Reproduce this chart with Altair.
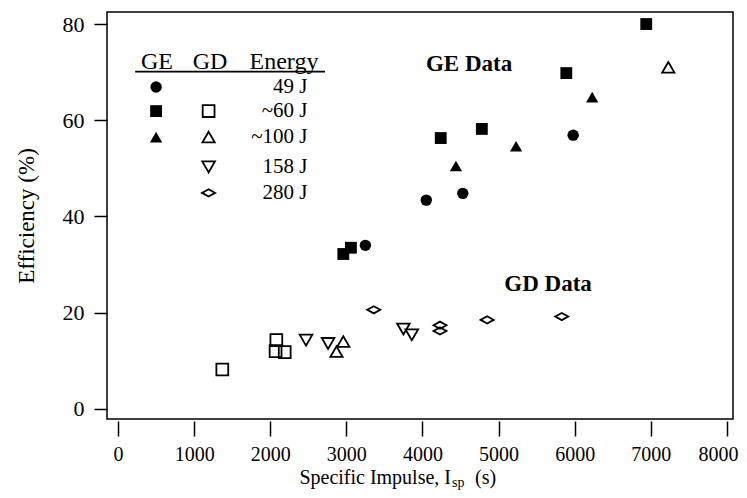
import altair as alt
import pandas as pd

# ---- data ----
ge_circle_x = [3250, 4050, 4530, 5980]
ge_circle_y = [34.0, 43.4, 44.8, 56.9]
ge_square_x = [2960, 3060, 4240, 4780, 5890, 6940]
ge_square_y = [32.2, 33.5, 56.3, 58.2, 69.8, 80.0]
ge_tri_x = [4440, 5230, 6230]
ge_tri_y = [50.5, 54.6, 64.8]

gd_square_x = [1370, 2070, 2190, 2080]
gd_square_y = [8.2, 12.0, 11.8, 14.3]
gd_tri_up_x = [2870, 2960, 7230]
gd_tri_up_y = [11.9, 14.0, 71.0]
gd_tri_down_x = [2470, 2760, 3750, 3860]
gd_tri_down_y = [14.3, 13.6, 16.6, 15.4]
gd_diamond_x = [3360, 4230, 4230, 4850, 5830]
gd_diamond_y = [20.6, 17.4, 16.2, 18.5, 19.2]

energy_labels = ["49 J", "~60 J", "~100 J", "158 J", "280 J"]
ge_markers = ["circle", "square", "tri_up", None, None]
gd_markers = [None, "square", "tri_up", "tri_down", "diamond"]
header_labels = ["GE", "GD", "Energy"]
x_ticks = [0, 1000, 2000, 3000, 4000, 5000, 6000, 7000, 8000]
y_ticks = [0, 20, 40, 60, 80]

FONT = "Liberation Serif"

# legend placement in data units
leg_ge_x, leg_gd_x, leg_lab_x = 500, 1190, 2490
leg_rows_y = [66.9, 61.9, 56.5, 50.3, 44.9]
leg_head_y = 70.6
leg_head_x = [512, 1209, 2180]

rows = []
def add(xs, ys, m, f):
    for a, b in zip(xs, ys):
        rows.append({"x": a, "y": b, "marker": m, "filled": f})

add(ge_circle_x, ge_circle_y, "circle", True)
add(ge_square_x, ge_square_y, "square", True)
add(ge_tri_x, ge_tri_y, "tri_up", True)
add(gd_square_x, gd_square_y, "square", False)
add(gd_tri_up_x, gd_tri_up_y, "tri_up", False)
add(gd_tri_down_x, gd_tri_down_y, "tri_down", False)
add(gd_diamond_x, gd_diamond_y, "diamond", False)
for m, ly in zip(ge_markers, leg_rows_y):
    if m:
        rows.append({"x": leg_ge_x, "y": ly, "marker": m, "filled": True})
for m, ly in zip(gd_markers, leg_rows_y):
    if m:
        rows.append({"x": leg_gd_x, "y": ly, "marker": m, "filled": False})
pts = pd.DataFrame(rows)

shape_scale = alt.Scale(
    domain=["circle", "square", "tri_up", "tri_down", "diamond"],
    range=["circle", "square", "triangle-up", "triangle-down",
           "M-1,0L0,-0.55L1,0L0,0.55Z"],
)
size_scale = alt.Scale(
    domain=["circle", "square", "tri_up", "tri_down", "diamond"],
    range=[130, 170, 170, 165, 160],
)

xs = alt.Scale(domain=[-145, 8080], nice=False, zero=False)
ys = alt.Scale(domain=[-2.1, 82.5], nice=False, zero=False)

base = alt.Chart(pts).encode(
    x=alt.X("x:Q", scale=xs, axis=alt.Axis(
        values=x_ticks, format="d", title=None, domain=False, grid=False,
        tickSize=15, tickWidth=1.5, tickColor="black", offset=2,
        labelFont=FONT, labelFontSize=20, labelColor="black", labelPadding=8,
        labelFlush=8, labelFlushOffset=11)),
    y=alt.Y("y:Q", scale=ys, axis=alt.Axis(
        values=y_ticks, title="Efficiency (%)", domain=False, grid=False,
        tickSize=13, tickWidth=1.5, tickColor="black",
        labelFont=FONT, labelFontSize=22, labelColor="black", labelPadding=10,
        titleFont=FONT, titleFontSize=23, titleFontWeight="normal",
        titleColor="black", titlePadding=24)),
    shape=alt.Shape("marker:N", scale=shape_scale, legend=None),
    size=alt.Size("marker:N", scale=size_scale, legend=None),
)

filled = base.transform_filter("datum.filled").mark_point(
    filled=True, color="black", opacity=1)
opened = base.transform_filter("!datum.filled").mark_point(
    filled=False, color="black", strokeWidth=1.8, opacity=1)

# legend texts
lab_df = pd.DataFrame({"x": [leg_lab_x] * 5, "y": leg_rows_y, "t": energy_labels})
labels = alt.Chart(lab_df).mark_text(
    align="right", baseline="middle", font=FONT, fontSize=21, color="black"
).encode(x=alt.X("x:Q", scale=xs), y=alt.Y("y:Q", scale=ys), text="t:N")

head_df = pd.DataFrame({"x": leg_head_x, "y": [leg_head_y] * 3, "t": header_labels})
heads = alt.Chart(head_df).mark_text(
    align="center", baseline="alphabetic", font=FONT, fontSize=24, color="black"
).encode(x=alt.X("x:Q", scale=xs), y=alt.Y("y:Q", scale=ys), text="t:N")

line_df = pd.DataFrame({"x": [225], "x2": [2720], "y": [70.1]})
uline = alt.Chart(line_df).mark_rule(color="black", strokeWidth=1.6).encode(
    x=alt.X("x:Q", scale=xs), x2="x2:Q", y=alt.Y("y:Q", scale=ys))

ann_df = pd.DataFrame({"x": [4612, 5650], "y": [70.2, 24.5], "t": ["GE Data", "GD Data"]})
ann = alt.Chart(ann_df).mark_text(
    align="center", baseline="alphabetic", font=FONT, fontSize=23,
    fontWeight="bold", color="black"
).encode(x=alt.X("x:Q", scale=xs), y=alt.Y("y:Q", scale=ys), text="t:N")

# x-axis title with subscript
t1 = alt.Chart(pd.DataFrame({"t": ["Specific Impulse, I"]})).mark_text(
    align="right", baseline="alphabetic", font=FONT, fontSize=20, color="black"
).encode(x=alt.value(344), y=alt.value(472), text="t:N")
t2 = alt.Chart(pd.DataFrame({"t": ["sp"]})).mark_text(
    align="left", baseline="alphabetic", font=FONT, fontSize=14, color="black"
).encode(x=alt.value(345), y=alt.value(475), text="t:N")
t3 = alt.Chart(pd.DataFrame({"t": ["(s)"]})).mark_text(
    align="left", baseline="alphabetic", font=FONT, fontSize=20, color="black"
).encode(x=alt.value(368), y=alt.value(472), text="t:N")

chart = alt.layer(opened, filled, uline, heads, labels, ann, t1, t2, t3).properties(
    width=626, height=407,
    autosize=alt.AutoSizeParams(type="none"),
    padding={"left": 99, "top": 4, "right": 6, "bottom": 71},
    background="white",
).configure_view(stroke="black", strokeWidth=1.5)

chart.save("out.html", embed_options={"renderer": "svg", "actions": False})
